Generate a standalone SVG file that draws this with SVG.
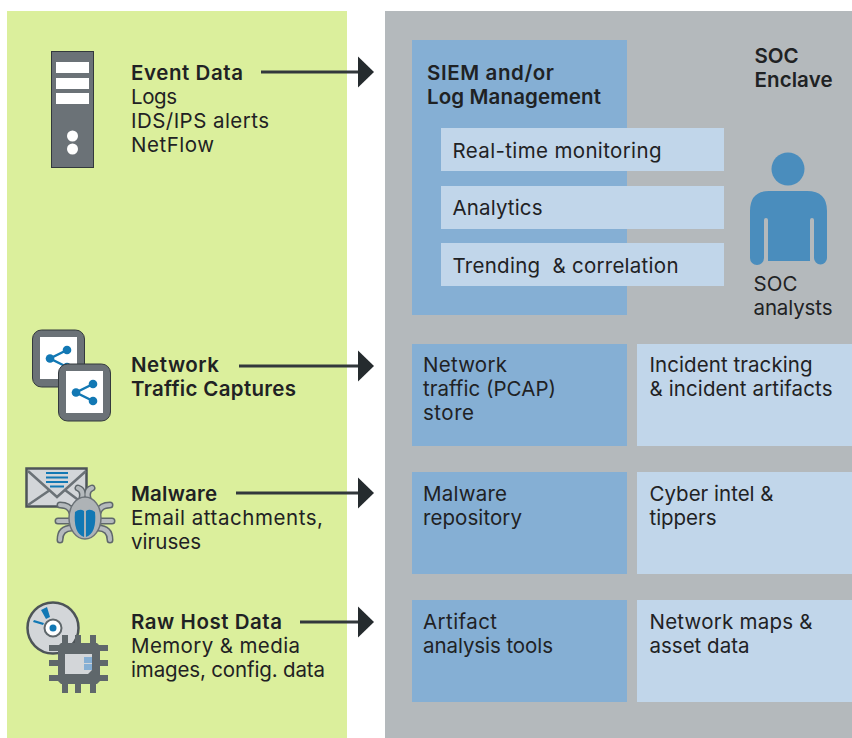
<svg xmlns="http://www.w3.org/2000/svg" width="852" height="738" viewBox="0 0 852 738">
<style>
text{font-family:"Inter","Open Sans","Liberation Sans",sans-serif;font-size:20.5px;fill:#1f2224}
.b{font-weight:600}
.mid{fill:#85afd4}
.lite{fill:#c1d6ea}
.dk{fill:#6b7277;stroke:#33393d;stroke-width:1}
.wire{stroke:#32383c;stroke-width:2.800;fill:none}
.blue{fill:#1278b4}
.w{fill:#fff}
.bugleg{stroke:#5f676b;stroke-width:7;fill:none;stroke-linecap:round}
.bugleg2{stroke:#b5babd;stroke-width:4;fill:none;stroke-linecap:round}
</style>
<defs>
<marker id="arr" markerUnits="userSpaceOnUse" markerWidth="17" markerHeight="32" refX="0" refY="16" orient="auto"><path d="M0 0.500L16 16L0 31.500Z" fill="#252b2e"/></marker>
<g id="share"><path d="M17 0L0 8.500L17 17" stroke="#1278b4" stroke-width="2.500" fill="none"/><circle cx="17" cy="0" r="4.300" class="blue"/><circle cx="0" cy="8.500" r="4.300" class="blue"/><circle cx="17" cy="17" r="4.300" class="blue"/></g>
</defs>
<rect id="green-panel" x="7" y="11" width="340" height="727" fill="#dbef9c"/>
<rect id="grey-panel" x="385" y="11" width="467" height="727" fill="#b4b9bc"/>
<g id="connectors">
<path class="wire" d="M261 72H358" marker-end="url(#arr)"/>
<path class="wire" d="M239 366H358" marker-end="url(#arr)"/>
<path class="wire" d="M236 493H358" marker-end="url(#arr)"/>
<path class="wire" d="M300 622H358" marker-end="url(#arr)"/>
</g>
<g id="event-data">
<rect class="dk" x="51.500" y="51.500" width="42" height="116"/>
<rect class="w" x="56" y="62" width="33" height="11"/><rect class="w" x="56" y="78" width="33" height="11"/><rect class="w" x="56" y="93" width="33" height="11"/>
<circle class="w" cx="72.500" cy="136" r="5.500"/><circle class="w" cx="72.500" cy="149" r="5.500"/>
<text class="b" x="131" y="80" textLength="112">Event Data</text><text x="131" y="104" textLength="46">Logs</text><text x="131" y="128" textLength="138">IDS/IPS alerts</text><text x="131" y="152" textLength="83">NetFlow</text>
</g>
<g id="network-traffic">
<rect class="dk" x="32.500" y="330" width="52" height="57" rx="9"/><rect class="w" x="40" y="337" width="37" height="42"/>
<use href="#share" x="50" y="350"/>
<rect class="dk" x="58.500" y="364" width="52" height="57" rx="9"/><rect class="w" x="66" y="371" width="37" height="42"/>
<use href="#share" x="76" y="384"/>
<text class="b" x="131" y="372" textLength="88">Network</text><text class="b" x="131" y="396" textLength="165">Traffic Captures</text>
</g>
<g id="malware">
<rect x="26.500" y="468.500" width="60" height="38" fill="#d3d6d9" stroke="#4d5458" stroke-width="2.500"/>
<path d="M28 471L57 497L86 471M28 505L50 490M85 505L65 490" fill="none" stroke="#6b7277" stroke-width="2.500"/>
<path d="M46 473H68M46 477.500H68M46 482H68M50 486.500H64" stroke="#1278b4" stroke-width="2"/>
<path class="bugleg" d="M72 513Q70 505 60 505M58 521H72M60 540Q60 528 72 528M98 513Q100 505 110 505M112 521H98M110 540Q110 528 98 528M82 498Q84 490 78 488M88 498Q86 490 92 488"/>
<path class="bugleg2" d="M72 513Q70 505 60 505M58 521H72M60 540Q60 528 72 528M98 513Q100 505 110 505M112 521H98M110 540Q110 528 98 528M82 498Q84 490 78 488M88 498Q86 490 92 488"/>
<ellipse cx="85" cy="518" rx="16" ry="21" fill="#aeb3b6" stroke="#6b7277" stroke-width="1.500"/>
<path d="M75 512Q80 508 84 511V537Q73 533 75 512ZM86 511Q90 508 95 512Q97 533 86 537Z" class="blue"/>
<text class="b" x="131" y="501" textLength="86">Malware</text><text x="131" y="525" textLength="192">Email attachments,</text><text x="131" y="549" textLength="70">viruses</text>
</g>
<g id="raw-host">
<circle cx="53" cy="628" r="25.500" fill="#d3d6d9" stroke="#4d5458" stroke-width="2.500"/>
<path d="M41 610L47 607L50 617L46 619ZM33 622L43 625L44 623L34 620Z" class="blue"/>
<circle cx="53" cy="628" r="8.500" fill="#fff" stroke="#5f676b" stroke-width="2"/><circle cx="53" cy="628" r="3.500" class="blue"/>
<path d="M49 648H108M49 663H108M49 678H108M65 635V693M78 635V693M93 635V693" stroke="#5f676b" stroke-width="6"/>
<path d="M61 643H97L100 646V681L97 684H61L58 681V646Z" fill="#5f676b"/>
<path d="M65 654H92V670L88 674H65Z" fill="#d3d6d9"/>
<rect x="84" y="657" width="8" height="6" fill="#85afd4"/><rect x="84" y="664" width="8" height="6" fill="#85afd4"/>
<text class="b" x="131" y="629" textLength="151">Raw Host Data</text><text x="131" y="653" textLength="169">Memory &amp; media</text><text x="131" y="677" textLength="194">images, config. data</text>
</g>
<g id="siem">
<rect class="mid" x="412" y="40" width="215" height="275"/>
<text class="b" x="427" y="80" textLength="127">SIEM and/or</text><text class="b" x="427" y="104" textLength="174">Log Management</text>
</g>
<g id="realtime"><rect class="lite" x="441" y="128" width="283" height="43"/><text x="452.500" y="158" textLength="209">Real-time monitoring</text></g>
<g id="analytics"><rect class="lite" x="441" y="186" width="283" height="43"/><text x="452.500" y="215" textLength="90">Analytics</text></g>
<g id="trending"><rect class="lite" x="441" y="243" width="283" height="43"/><text x="452.500" y="273" xml:space="preserve" textLength="226">Trending  &amp; correlation</text></g>
<g id="soc-enclave"><text class="b" x="754.500" y="63" textLength="44">SOC</text><text class="b" x="754.500" y="87" textLength="78">Enclave</text></g>
<g id="soc-analysts">
<circle cx="788" cy="169" r="16.500" fill="#4a8dbd"/>
<path d="M769 191H807Q827 191 827 211V258A6.500 6.500 0 0 1 814 258V220Q814 218 812 218Q810 218 810 220V261H768V220Q768 218 766 218Q764 218 764 220V258A6.500 6.500 0 0 1 750 258V211Q750 191 769 191Z" fill="#4a8dbd"/>
<text x="753.500" y="291" textLength="44">SOC</text><text x="753.500" y="315" textLength="79">analysts</text>
</g>
<g id="pcap"><rect class="mid" x="412" y="344" width="215" height="102"/><text x="423" y="372" textLength="84">Network</text><text x="423" y="396" textLength="133">traffic (PCAP)</text><text x="423" y="420" textLength="51">store</text></g>
<g id="incident"><rect class="lite" x="637" y="344" width="215" height="102"/><text x="649.500" y="372" textLength="163">Incident tracking</text><text x="649.500" y="396" textLength="183">&amp; incident artifacts</text></g>
<g id="malware-repo"><rect class="mid" x="412" y="472" width="215" height="102"/><text x="423" y="501" textLength="84">Malware</text><text x="423" y="525" textLength="99">repository</text></g>
<g id="cyber-intel"><rect class="lite" x="637" y="472" width="215" height="102"/><text x="649.500" y="501" textLength="124">Cyber intel &amp;</text><text x="649.500" y="525" textLength="67">tippers</text></g>
<g id="artifact"><rect class="mid" x="412" y="600" width="215" height="102"/><text x="423" y="629" textLength="74">Artifact</text><text x="423" y="653" textLength="130">analysis tools</text></g>
<g id="maps"><rect class="lite" x="637" y="600" width="215" height="102"/><text x="649.500" y="629" textLength="163">Network maps &amp;</text><text x="649.500" y="653" textLength="100">asset data</text></g>
</svg>
